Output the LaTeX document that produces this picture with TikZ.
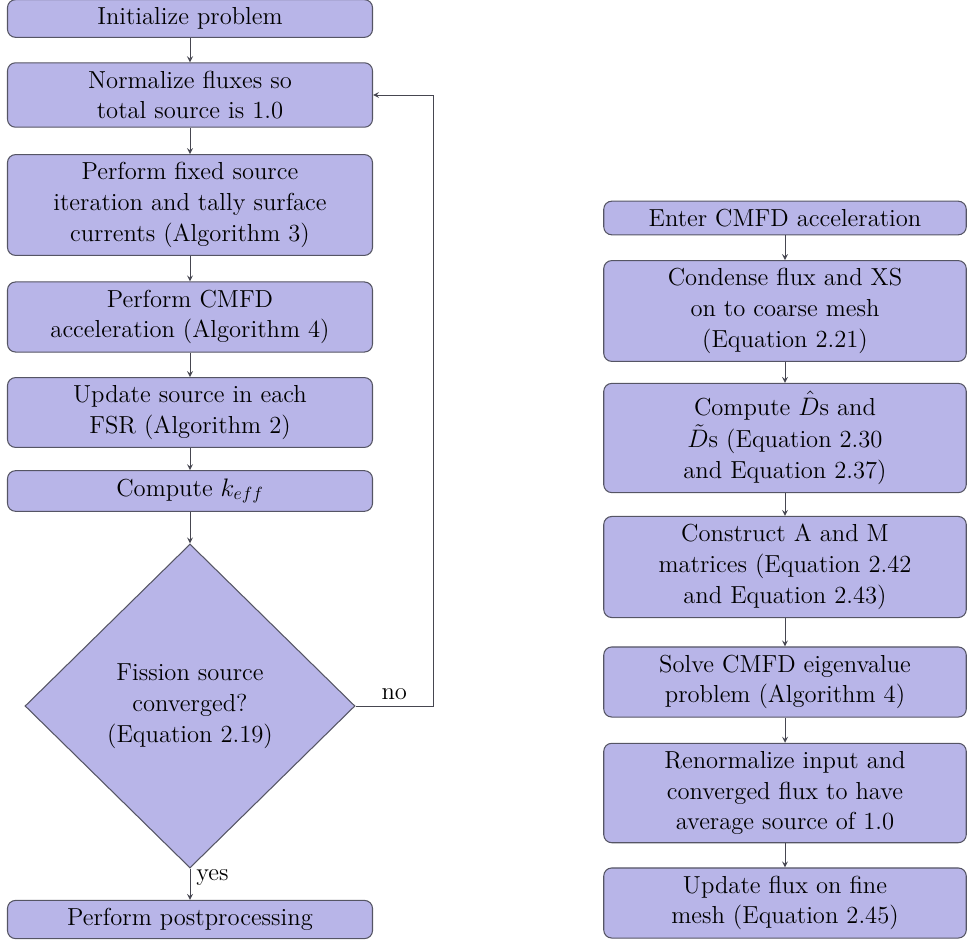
\documentclass[tikz,border=0pt]{standalone}
\usepackage{amssymb,amsmath}
\usepackage[usenames,dvipsnames]{xcolor}
\usepackage{tikz}
\usetikzlibrary{shapes.geometric}

\definecolor{boxfill}{RGB}{184,181,232}
\definecolor{boxline}{RGB}{85,85,100}
\definecolor{arrowline}{RGB}{70,70,80}

\tikzset{
  stepbox/.style={draw=boxline, fill=boxfill, rounded corners=0.16cm, line width=0.6pt,
    minimum width=7.3cm, inner ysep=4.5pt, align=center,
    font=\fontsize{14}{17.5}\selectfont},
  rightbox/.style={stepbox, minimum width=7.25cm},
  decision/.style={diamond, draw=boxline, fill=boxfill, line width=0.6pt,
    minimum width=6.6cm, minimum height=6.48cm, inner sep=0pt, align=center,
    font=\fontsize{14}{17.5}\selectfont},
  flow/.style={draw=arrowline, line width=0.5pt, ->, >=stealth},
  flowlabel/.style={font=\fontsize{14}{17}\selectfont}
}

\begin{document}
\begin{tikzpicture}
\useasboundingbox (0,0) rectangle (19.34,-18.94);

% main loop
\node[stepbox] (init) at (3.8,-0.37) {Initialize problem};
\node[stepbox] (norm) at (3.8,-1.9) {Normalize fluxes so\\ total source is 1.0};
\node[stepbox] (fixed) at (3.8,-4.1) {Perform fixed source\\ iteration and tally surface\\ currents (Algorithm 3)};
\node[stepbox] (cmfd) at (3.8,-6.34) {Perform CMFD\\ acceleration (Algorithm 4)};
\node[stepbox] (update) at (3.8,-8.25) {Update source in each\\ FSR (Algorithm 2)};
\node[stepbox] (keff) at (3.8,-9.82) {Compute $k_{eff}$};
\node[decision] (conv) at (3.8,-14.12) {Fission source\\ converged?\\ (Equation 2.19)};
\node[stepbox] (post) at (3.8,-18.39) {Perform postprocessing};

\draw[flow] (init) -- (norm);
\draw[flow] (norm) -- (fixed);
\draw[flow] (fixed) -- (cmfd);
\draw[flow] (cmfd) -- (update);
\draw[flow] (update) -- (keff);
\draw[flow] (keff) -- (conv);
\draw[flow] (conv) -- node[flowlabel, right, pos=0.3] {yes} (post);
\coordinate (back) at (8.66,-14.12);
\draw[flow] (conv.east) -- node[flowlabel, above, pos=0.5] {no} (back) |- (norm.east);

% CMFD acceleration
\node[rightbox] (enter) at (15.7,-4.36) {Enter CMFD acceleration};
\node[rightbox] (condense) at (15.7,-6.22) {Condense flux and XS\\ on to coarse mesh\\ (Equation 2.21)};
\node[rightbox] (dhat) at (15.7,-8.76) {Compute $\hat{D}$s and\\[1pt] $\tilde{D}$s (Equation 2.30\\ and Equation 2.37)};
\node[rightbox] (matrices) at (15.7,-11.34) {Construct A and M\\ matrices (Equation 2.42\\ and Equation 2.43)};
\node[rightbox] (solve) at (15.7,-13.64) {Solve CMFD eigenvalue\\ problem (Algorithm 4)};
\node[rightbox] (renorm) at (15.7,-15.86) {Renormalize input and\\ converged flux to have\\ average source of 1.0};
\node[rightbox] (fine) at (15.7,-18.06) {Update flux on fine\\ mesh (Equation 2.45)};

\draw[flow] (enter) -- (condense);
\draw[flow] (condense) -- (dhat);
\draw[flow] (dhat) -- (matrices);
\draw[flow] (matrices) -- (solve);
\draw[flow] (solve) -- (renorm);
\draw[flow] (renorm) -- (fine);
\end{tikzpicture}
\end{document}
